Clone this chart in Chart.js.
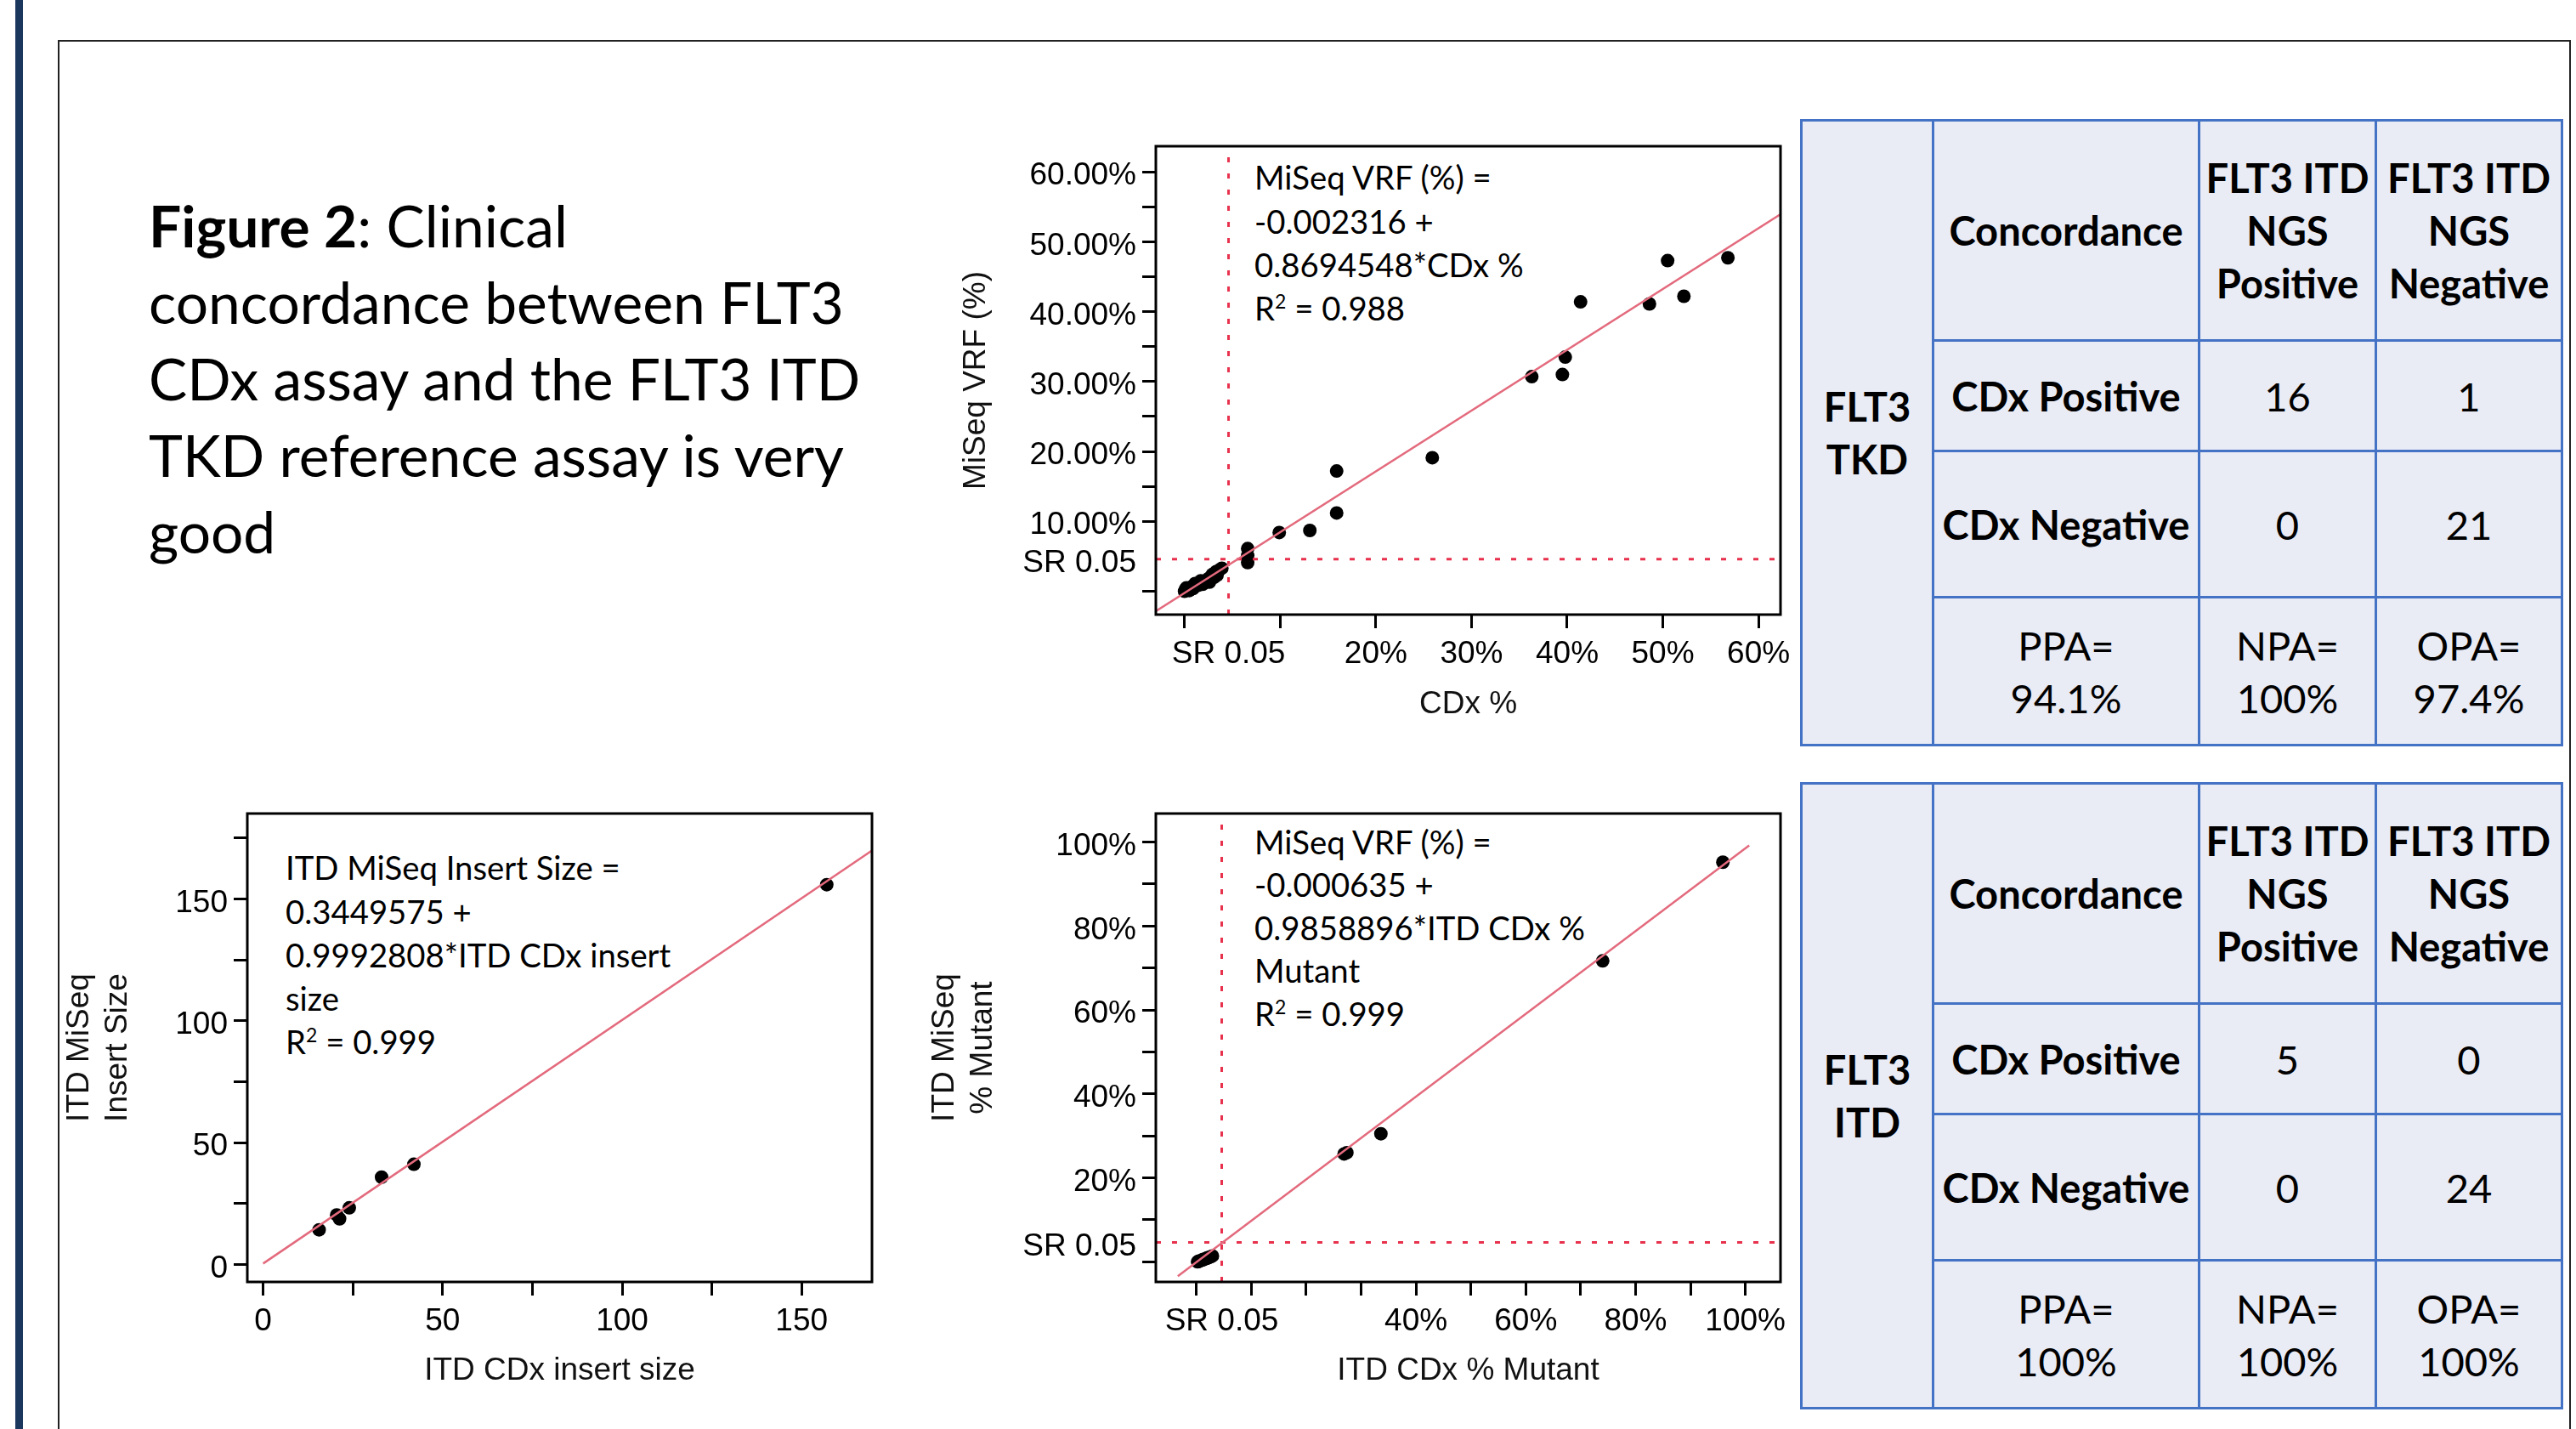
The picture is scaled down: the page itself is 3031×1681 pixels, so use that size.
<!DOCTYPE html>
<html>
<head>
<meta charset="utf-8">
<script src="https://cdn.jsdelivr.net/npm/chart.js@4.4.1/dist/chart.umd.min.js"></script>
<style>
html, body { margin: 0; padding: 0; background: #fff; }
body { width: 3031px; height: 1681px; position: relative; overflow: hidden; font-family: Lato, sans-serif; }
#bar { position: absolute; left: 18px; top: 0; width: 9px; height: 1681px; background: #1c375e; }
#frame { position: absolute; left: 68px; top: 47px; width: 2953px; height: 1700px; border: 2px solid #222; }
canvas { position: absolute; }
.note { position: absolute; color: #000; white-space: nowrap; }
.note sup { font-size: 0.6em; line-height: 0; vertical-align: 0; position: relative; top: -0.6em; }
table.conc { position: absolute; left: 2118px; width: 895px; border-collapse: collapse; table-layout: fixed; background: #e9ebf5; }
table.conc td { border: 3px solid #4472c4; text-align: center; vertical-align: middle; padding: 0; color: #000; white-space: nowrap; line-height: 62px; }
table.conc td.b { font-weight: bold; }
</style>
</head>
<body>
<div id="bar"></div>
<div id="frame"></div>

<script>
// ---- data ----
var srCut = 0.046;

// FLT3 TKD: CDx % vs MiSeq VRF
var tkdCdx   = [0.568, 0.505, 0.522, 0.486, 0.414, 0.398, 0.395, 0.363, 0.259, 0.159, 0.159, 0.131, 0.099, 0.066, 0.066, 0.066,
                0.039, 0.034, 0.031, 0.026, 0.026, 0.022, 0.017, 0.011, 0.007, 0.002, 0.0, 0.004, 0.013, 0.019, 0.029, 0.036, 0.009, 0.024, 0.015, 0.005, 0.001, 0.033];
var tkdMiseq = [0.477, 0.473, 0.422, 0.411, 0.414, 0.335, 0.310, 0.307, 0.191, 0.172, 0.112, 0.087, 0.084, 0.061, 0.051, 0.041,
                0.033, 0.023, 0.020, 0.019, 0.013, 0.013, 0.015, 0.011, 0.006, 0.005, 0.0, 0.002, 0.008, 0.010, 0.024, 0.030, 0.004, 0.017, 0.009, 0.001, 0.003, 0.028];
var tkdFit = [-0.002316, 0.8694548];
var tkdXTicks  = [0, srCut, 0.1, 0.2, 0.3, 0.4, 0.5, 0.6];
var tkdXLabels = ['', 'SR 0.05', '', '20%', '30%', '40%', '50%', '60%'];
var tkdYTicks  = [0, srCut, 0.1, 0.15, 0.2, 0.25, 0.3, 0.35, 0.4, 0.45, 0.5, 0.55, 0.6];
var tkdYLabels = ['', 'SR 0.05', '10.00%', '', '20.00%', '', '30.00%', '', '40.00%', '', '50.00%', '', '60.00%'];

// FLT3 ITD: insert size
var sizeCdx   = [157, 42, 33, 24, 20.5, 21.3, 15.6];
var sizeMiseq = [155.8, 41.1, 35.8, 23.2, 20.3, 18.7, 14.2];
var sizeFit = [0.3449575, 0.9992808];
var sizeXTicks  = [0, 25, 50, 75, 100, 125, 150];
var sizeXLabels = ['0', '', '50', '', '100', '', '150'];
var sizeYTicks  = [0, 25, 50, 75, 100, 125, 150, 175];
var sizeYLabels = ['0', '', '50', '', '100', '', '150', ''];

// FLT3 ITD: % mutant
var mutCdx   = [0.959, 0.740, 0.336, 0.274, 0.269, 0.002, 0.006, 0.010, 0.014, 0.018, 0.022, 0.026, 0.029, 0.004, 0.012, 0.020];
var mutMiseq = [0.952, 0.717, 0.305, 0.260, 0.257, 0.000, 0.002, 0.004, 0.006, 0.008, 0.010, 0.012, 0.014, 0.001, 0.005, 0.009];
var mutFit = [-0.000635, 0.9858896];
var mutXTicks  = [0, srCut, 0.1, 0.2, 0.3, 0.4, 0.5, 0.6, 0.7, 0.8, 0.9, 1.0];
var mutXLabels = ['', 'SR 0.05', '', '', '', '40%', '', '60%', '', '80%', '', '100%'];
var mutYTicks  = [0, srCut, 0.1, 0.2, 0.3, 0.4, 0.5, 0.6, 0.7, 0.8, 0.9, 1.0];
var mutYLabels = ['', 'SR 0.05', '', '20%', '', '40%', '', '60%', '', '80%', '', '100%'];

// concordance tables
var tkdCounts = [[16, 1], [0, 21]];
var tkdAgree  = ['94.1%', '100%', '97.4%'];
var itdCounts = [[5, 0], [0, 24]];
var itdAgree  = ['100%', '100%', '100%'];

// ---- text helpers ----
var mctx = document.createElement('canvas').getContext('2d');
function fitSize(text, width, weight) {
  mctx.font = weight + ' 100px Lato';
  return 100 * width / mctx.measureText(text).width;
}
function placeBlock(el, x, capCenter, size, lh, weight) {
  mctx.font = (weight || 'normal') + ' ' + size + 'px Lato';
  var m = mctx.measureText('H');
  var base = capCenter + m.actualBoundingBoxAscent / 2;
  el.style.left = x + 'px';
  el.style.fontSize = size + 'px';
  el.style.lineHeight = lh + 'px';
  el.style.top = (base - ((lh - m.fontBoundingBoxAscent - m.fontBoundingBoxDescent) / 2 + m.fontBoundingBoxAscent)) + 'px';
}
function addNote(html, x, capCenter, size, lh) {
  var d = document.createElement('div');
  d.className = 'note';
  d.innerHTML = html;
  document.body.appendChild(d);
  placeBlock(d, x, capCenter, size, lh);
}

var titleSize = fitSize('concordance between FLT3', 818, 'normal');
addNote('<b>Figure 2</b>: Clinical<br>concordance between FLT3<br>CDx assay and the FLT3 ITD<br>TKD reference assay is very<br>good',
        175, 267, titleSize, 89.9);

var noteSize = fitSize('MiSeq VRF (%) =', 281, 'normal');
addNote('MiSeq VRF (%) =<br>-0.002316 +<br>0.8694548*CDx %<br>R<sup>2</sup> = 0.988', 1476, 210, noteSize, 51.3);
addNote('ITD MiSeq Insert Size =<br>0.3449575 +<br>0.9992808*ITD CDx insert<br>size<br>R<sup>2</sup> = 0.999', 336, 1022, noteSize, 51.2);
addNote('MiSeq VRF (%) =<br>-0.000635 +<br>0.9858896*ITD CDx %<br>Mutant<br>R<sup>2</sup> = 0.999', 1476, 991, noteSize, 50.5);

// ---- tables ----
var tableSize = fitSize('CDx Negative', 291, 'bold');
function buildTable(top, assay, counts, agree) {
  var t = document.createElement('table');
  t.className = 'conc';
  t.style.top = top + 'px';
  t.style.fontSize = tableSize + 'px';
  t.innerHTML =
    '<colgroup><col style="width:155px"><col style="width:313px"><col style="width:208px"><col style="width:219px"></colgroup>' +
    '<tr style="height:259px"><td rowspan="4" class="b">FLT3<br>' + assay + '</td><td class="b">Concordance</td>' +
    '<td class="b">FLT3 ITD<br>NGS<br>Positive</td><td class="b">FLT3 ITD<br>NGS<br>Negative</td></tr>' +
    '<tr style="height:130px"><td class="b">CDx Positive</td><td>' + counts[0][0] + '</td><td>' + counts[0][1] + '</td></tr>' +
    '<tr style="height:172px"><td class="b">CDx Negative</td><td>' + counts[1][0] + '</td><td>' + counts[1][1] + '</td></tr>' +
    '<tr style="height:174px"><td>PPA=<br>' + agree[0] + '</td><td>NPA=<br>' + agree[1] + '</td><td>OPA=<br>' + agree[2] + '</td></tr>';
  document.body.appendChild(t);
}
buildTable(140, 'TKD', tkdCounts, tkdAgree);
buildTable(920, 'ITD', itdCounts, itdAgree);

// ---- scatter charts ----
Chart.defaults.font.family = 'Liberation Sans';

var boxPlugin = {
  id: 'box',
  afterDraw: function (chart) {
    var c = chart.ctx, a = chart.chartArea;
    c.save();
    c.strokeStyle = '#000';
    c.lineWidth = 3;
    c.strokeRect(a.left, a.top, a.right - a.left, a.bottom - a.top);
    c.restore();
  }
};

function axis(min, max, ticks, labels, title, size, tickPad, titlePad, isY) {
  return {
    type: 'linear',
    min: min,
    max: max,
    afterBuildTicks: function (s) { s.ticks = ticks.map(function (v) { return { value: v }; }); },
    afterFit: function (s) { if (isY) s.width = size; else s.height = size; },
    ticks: {
      autoSkip: false, maxRotation: 0, minRotation: 0,
      padding: tickPad, color: '#000',
      // y labels sit a few px below their tick in the original, hence the blank first line
      font: isY ? { size: 37, lineHeight: '10px' } : { size: 37 },
      callback: function (v, i) {
        var s = labels[i];
        return isY && s ? ['', s] : s;
      }
    },
    grid: {
      drawOnChartArea: false, tickLength: 16, lineWidth: 3,
      color: function (ctx) {
        return ctx.tick && Math.abs(ctx.tick.value - srCut) < 1e-9 ? 'rgba(0,0,0,0)' : '#000';
      }
    },
    border: { display: false },
    title: {
      display: true, text: title, color: '#111',
      font: { size: 37 },
      padding: isY ? { top: titlePad, bottom: 0 } : { top: 0, bottom: 0 }
    }
  };
}

function makeScatter(o) {
  var cv = document.createElement('canvas');
  cv.width = o.w;
  cv.height = o.h;
  cv.style.left = o.left + 'px';
  cv.style.top = o.top + 'px';
  document.body.appendChild(cv);

  var pts = o.xs.map(function (x, i) { return { x: x, y: o.ys[i] }; });
  var datasets = [{
    data: [{ x: o.fitFrom, y: o.fit[0] + o.fit[1] * o.fitFrom }, { x: o.fitTo, y: o.fit[0] + o.fit[1] * o.fitTo }],
    showLine: true, borderColor: '#e36a7d', borderWidth: 2.5, pointRadius: 0
  }];
  if (o.sr) {
    datasets.push({
      data: [{ x: o.sr, y: o.yMin }, { x: o.sr, y: o.yMax }],
      showLine: true, borderColor: '#e8314c', borderWidth: 3, borderDash: [6, 13], pointRadius: 0
    });
    datasets.push({
      data: [{ x: o.xMin, y: o.sr }, { x: o.xMax, y: o.sr }],
      showLine: true, borderColor: '#e8314c', borderWidth: 3, borderDash: [6, 13], pointRadius: 0
    });
  }
  datasets.push({ data: pts, showLine: false, pointRadius: 8, pointBackgroundColor: '#000', pointBorderWidth: 0 });

  return new Chart(cv.getContext('2d'), {
    type: 'scatter',
    data: { datasets: datasets },
    options: {
      responsive: false,
      animation: false,
      events: [],
      layout: { padding: { left: 0, top: o.padTop, right: 50, bottom: 0 } },
      plugins: { legend: { display: false }, tooltip: { enabled: false } },
      scales: {
        x: axis(o.xMin, o.xMax, o.xTicks, o.xLabels, o.xTitle, o.xHeight, 9, 0, false),
        y: axis(o.yMin, o.yMax, o.yTicks, o.yLabels, o.yTitle, o.yWidth, 7, o.yTitlePad, true)
      }
    },
    plugins: [boxPlugin]
  });
}

makeScatter({
  left: 1080, top: 120, w: 1065, h: 731, padTop: 52, yWidth: 280, xHeight: 128, yTitlePad: 47,
  xs: tkdCdx, ys: tkdMiseq, fit: tkdFit, fitFrom: -0.030, fitTo: 0.623, sr: srCut,
  xMin: -0.030, xMax: 0.623, yMin: -0.0334, yMax: 0.6366,
  xTicks: tkdXTicks, xLabels: tkdXLabels, yTicks: tkdYTicks, yLabels: tkdYLabels,
  xTitle: 'CDx %', yTitle: 'MiSeq VRF (%)'
});

makeScatter({
  left: 30, top: 905, w: 1046, h: 730, padTop: 52, yWidth: 261, xHeight: 127, yTitlePad: 42,
  xs: sizeCdx, ys: sizeMiseq, fit: sizeFit, fitFrom: 0, fitTo: 169.6, sr: null,
  xMin: -4.4, xMax: 169.6, yMin: -7.2, yMax: 185,
  xTicks: sizeXTicks, xLabels: sizeXLabels, yTicks: sizeYTicks, yLabels: sizeYLabels,
  xTitle: 'ITD CDx insert size', yTitle: ['ITD MiSeq', 'Insert Size']
});

makeScatter({
  left: 1060, top: 905, w: 1085, h: 730, padTop: 52, yWidth: 300, xHeight: 127, yTitlePad: 30,
  xs: mutCdx, ys: mutMiseq, fit: mutFit, fitFrom: -0.034, fitTo: 1.007, sr: srCut,
  xMin: -0.074, xMax: 1.064, yMin: -0.048, yMax: 1.068,
  xTicks: mutXTicks, xLabels: mutXLabels, yTicks: mutYTicks, yLabels: mutYLabels,
  xTitle: 'ITD CDx % Mutant', yTitle: ['ITD MiSeq', '% Mutant']
});
</script>
</body>
</html>
